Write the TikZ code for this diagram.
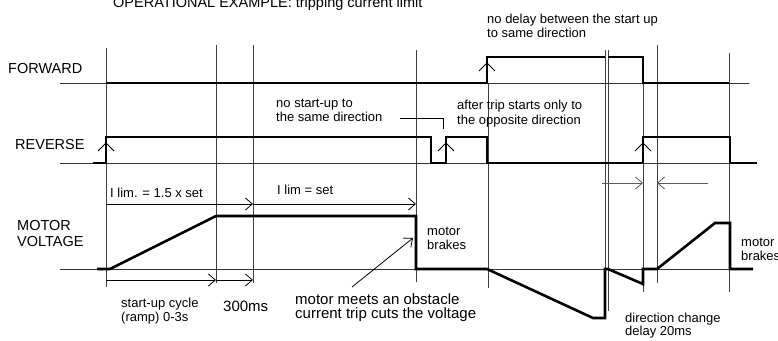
\documentclass[tikz,border=0pt]{standalone}
\usepackage{fontspec}
\setmainfont{Liberation Sans}
\usetikzlibrary{arrows.meta}
\tikzset{
  sig/.style={line width=2.6pt, line join=miter, line cap=butt},
  gridline/.style={line width=0.8pt, black!75},
  baseline/.style={line width=0.9pt, black!80},
  dimarrow/.style={line width=0.8pt, -{Straight Barb[length=7pt,width=12pt,line width=0.8pt]}},
  edgemark/.style={line width=0.8pt},
  lab/.style={anchor=base west, inner sep=0pt, font=\fontsize{13}{15}\selectfont},
  biglab/.style={anchor=base west, inner sep=0pt, font=\fontsize{15}{17}\selectfont},
  siglab/.style={anchor=base west, inner sep=0pt, font=\fontsize{14.5}{16}\selectfont},
}
\begin{document}
\begin{tikzpicture}[x=1pt,y=-1pt]
\useasboundingbox (0,0) rectangle (778,340);
\fill[white] (0,0) rectangle (778,340);

% vertical reference lines
\draw[gridline] (106,48) -- (106,287);
\draw[gridline] (216,45) -- (216,283);
\draw[gridline] (253,45) -- (253,283);
\draw[gridline] (416,50) -- (416,282);
\draw[gridline] (488,83) -- (488,288);
\draw[gridline] (605,50) -- (605,318);
\draw[gridline] (608,50) -- (608,311);
\draw[gridline] (643,57) -- (643,292);
\draw[gridline] (657,45) -- (657,283);
\draw[gridline] (729,53) -- (729,292);

% baselines
\draw[baseline] (60,83) -- (749,83);
\draw[baseline] (60,163) -- (757,163);
\draw[baseline] (60,269) -- (753,269);

% FORWARD signal
\draw[sig] (106,83) -- (487,83) -- (487,57) -- (605,57);
\draw[sig] (608,57) -- (643,57) -- (643,83) -- (729,83);

% REVERSE signal
\draw[sig] (93,163) -- (106,163) -- (106,137) -- (431,137) -- (431,163) -- (446,163)
  -- (446,137) -- (487,137) -- (487,163) -- (643,163) -- (643,137) -- (730,137)
  -- (730,163) -- (757,163);

% MOTOR VOLTAGE
\draw[sig] (97,269) -- (110,269) -- (216,216) -- (416,216) -- (416,269) -- (487,269)
  -- (593,318) -- (605,318) -- (605,269) -- (608,269) -- (643,284) -- (643,269)
  -- (657,269) -- (715,223) -- (730,223) -- (730,269) -- (753,269);

% rising edge marks
\foreach \ex/\ey in {106/137, 487/57, 446/137, 643/137}
  \draw[edgemark] (\ex-8,\ey+14) -- (\ex,\ey+6) -- (\ex+8,\ey+14);

% dimension arrows
\coordinate (a0) at (106,204);
\coordinate (a1) at (253,204);
\coordinate (a2) at (416,204);
\draw[dimarrow] (a0) -- (a1);
\draw[dimarrow] (a1) -- (a2);
\coordinate (b0) at (106,280);
\coordinate (b1) at (216,280);
\coordinate (b2) at (253,280);
\draw[dimarrow] (b0) -- (b1);
\draw[dimarrow] (b1) -- (b2);
\coordinate (c0) at (602,183);
\coordinate (c1) at (643,183);
\coordinate (c2) at (708,183);
\coordinate (c3) at (657,183);
\draw[dimarrow, black!65] (c0) -- (c1);
\draw[dimarrow, black!65] (c2) -- (c3);
\coordinate (p0) at (352,287);
\coordinate (p1) at (413,238);
\draw[dimarrow] (p0) -- (p1);
\coordinate (l0) at (400,118);
\coordinate (l1) at (443,118);
\coordinate (l2) at (443,129);
\draw[line width=0.8pt] (l0) -- (l1) -- (l2);

% texts
\node[siglab] (title) at (113,8) {OPERATIONAL EXAMPLE: tripping current limit};
\node[siglab] (fwd) at (8,73) {FORWARD};
\node[siglab] (rev) at (15,149) {REVERSE};
\node[siglab] (mv1) at (17,230) {MOTOR};
\node[siglab] (mv2) at (17,246) {VOLTAGE};
\node[lab] (nd1) at (487,23) {no delay between the start up};
\node[lab] (nd2) at (487,37) {to same direction};
\node[lab] (ns1) at (276,107) {no start-up to};
\node[lab] (ns2) at (276,121) {the same direction};
\node[lab] (at1) at (457,109) {after trip starts only to};
\node[lab] (at2) at (457,124) {the opposite direction};
\node[lab] (il1) at (110,197) {I lim. = 1.5 x set};
\node[lab] (il2) at (277,194) {I lim = set};
\node[lab] (mb1) at (427,235) {motor};
\node[lab] (mb2) at (427,249) {brakes};
\node[lab] (mb3) at (741,246) {motor};
\node[lab] (mb4) at (741,260) {brakes};
\node[lab] (su1) at (121,307) {start-up cycle};
\node[lab] (su2) at (121,321) {(ramp) 0-3s};
\node[biglab] (ms) at (223,311) {300ms};
\node[biglab] (mm1) at (295,304) {motor meets an obstacle};
\node[biglab] (mm2) at (295,318) {current trip cuts the voltage};
\node[lab] (dc1) at (625,322) {direction change};
\node[lab] (dc2) at (625,335) {delay 20ms};
\end{tikzpicture}
\end{document}
